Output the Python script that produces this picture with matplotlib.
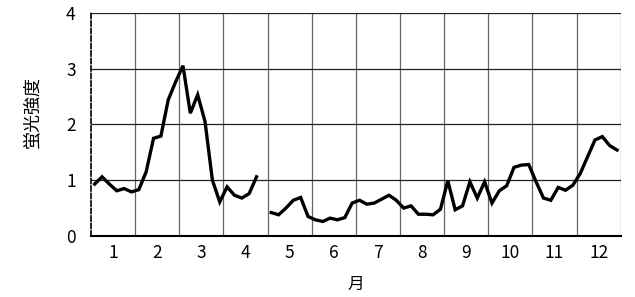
import numpy as np
import matplotlib
matplotlib.use("Agg")
import matplotlib.pyplot as plt

# 半旬ごと (6 points / month), NaN = 欠測
intensity = [
    0.93, 1.06, 0.93, 0.81, 0.85, 0.79,
    0.83, 1.15, 1.75, 1.79, 2.44, 2.76,
    3.05, 2.20, 2.53, 2.05, 1.00, 0.61,
    0.88, 0.73, 0.68, 0.76, 1.06, np.nan,
    0.42, 0.38, 0.50, 0.64, 0.69, 0.35,
    0.29, 0.26, 0.32, 0.29, 0.33, 0.59,
    0.64, 0.57, 0.59, 0.66, 0.73, 0.64,
    0.50, 0.54, 0.39, 0.39, 0.38, 0.48,
    0.99, 0.47, 0.54, 0.97, 0.68, 0.97,
    0.59, 0.81, 0.90, 1.23, 1.27, 1.28,
    0.97, 0.68, 0.64, 0.87, 0.82, 0.91,
    1.12, 1.42, 1.72, 1.78, 1.62, 1.54,
]
months = ["1", "2", "3", "4", "5", "6", "7", "8", "9", "10", "11", "12"]
yticks = [0, 1, 2, 3, 4]

num_fonts = ['Liberation Sans Narrow', 'Noto Sans CJK JP', 'DejaVu Sans']
jp_fonts = ['Noto Sans CJK JP', 'DejaVu Sans']


def main():
    fig = plt.figure(figsize=(6.35, 2.97), dpi=100)
    ax = fig.add_axes([0.1433, 0.2054, 0.8342, 0.7518])

    x = (np.arange(len(intensity)) + 0.5) / 6.0
    ax.plot(x, intensity, color='black', lw=2.4, solid_joinstyle='miter')

    ax.set_xlim(0, 12)
    ax.set_ylim(0, 4)

    # month boundaries
    for m in range(1, 13):
        ax.axvline(m, color='#666666', lw=0.9, zorder=0)
    for v in yticks[1:]:
        ax.axhline(v, color='#222222', lw=0.9, zorder=0)

    ax.set_xticks(np.arange(12) + 0.5)
    ax.set_xticklabels(months, family=num_fonts, fontsize=12.5)
    ax.set_yticks(yticks)
    ax.set_yticklabels([str(v) for v in yticks], family=num_fonts, fontsize=12.5)
    ax.tick_params(axis='x', length=0, pad=6)
    ax.tick_params(axis='y', length=0, pad=11)

    ax.spines['top'].set_visible(False)
    ax.spines['right'].set_visible(False)
    ax.spines['bottom'].set_linewidth(1.5)
    ax.spines['left'].set_linestyle((0, (3, 1.5)))
    ax.spines['left'].set_linewidth(1.2)

    ax.set_xlabel('月', family=jp_fonts, fontsize=12, labelpad=10)
    ax.set_ylabel('蛍光強度', family=jp_fonts, fontsize=13)
    ax.yaxis.set_label_coords(-0.093, 0.555)

    fig.savefig('out.png', dpi=100)


if __name__ == '__main__':
    main()
